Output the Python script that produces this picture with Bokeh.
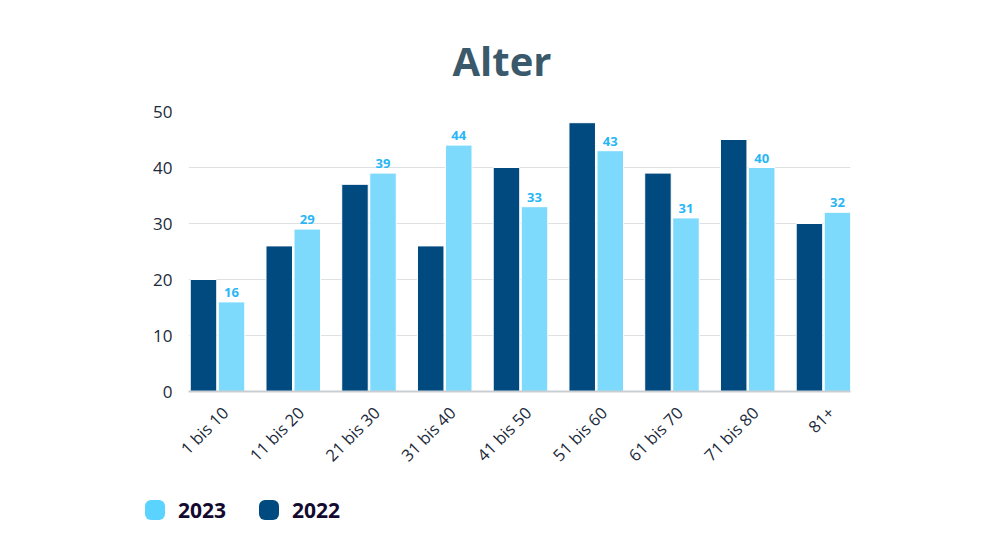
from bokeh.plotting import figure
from bokeh.models import ColumnDataSource, Range1d, FixedTicker, LabelSet, Div
from bokeh.layouts import column
from bokeh.transform import dodge
from bokeh.core.properties import value
from bokeh.embed import file_html
from bokeh.resources import INLINE

categories = ["1 bis 10", "11 bis 20", "21 bis 30", "31 bis 40", "41 bis 50",
              "51 bis 60", "61 bis 70", "71 bis 80", "81+"]
values_2022 = [20, 26, 37, 26, 40, 48, 39, 45, 30]
values_2023 = [16, 29, 39, 44, 33, 43, 31, 40, 32]
series_names = ["2023", "2022"]
y_ticks = [0, 10, 20, 30, 40, 50]
title_text = "Alter"

FONT = "Open Sans"
DARK = "#004a80"
LIGHT = "#7ddafd"
LEGEND_COLORS = ["#5ad3ff", "#004a80"]
TEXT_DARK = "#1c2a3b"

W, H1 = 979, 480

xs = [i + 0.5 for i in range(len(categories))]
src = ColumnDataSource(dict(x=xs, cat=categories, v22=values_2022, v23=values_2023,
                            lab23=[str(v) for v in values_2023]))

p = figure(width=W, height=H1, x_range=Range1d(0.117, 8.857), y_range=Range1d(0, 50),
           output_backend="svg", toolbar_location=None,
           min_border_left=188, min_border_right=W - 850, min_border_top=111,
           min_border_bottom=H1 - 391, outline_line_color=None)

p.title.text = title_text
p.title.align = "left"
p.title.offset = 264
p.title.standoff = 48
p.title.text_font = FONT
p.title.text_font_style = "bold"
p.title.text_font_size = "40px"
p.title.text_color = "#3a5a6c"

r22 = p.vbar(x=dodge("x", -0.185), top="v22", width=0.35, source=src,
             fill_color=DARK, line_color="white", line_width=1)
r23 = p.vbar(x=dodge("x", 0.185), top="v23", width=0.35, source=src,
             fill_color=LIGHT, line_color="white", line_width=1)

labels = LabelSet(x=dodge("x", 0.185), y="v23", text="lab23", source=src,
                  text_align="center", text_baseline="bottom", y_offset=5,
                  text_font=value(FONT), text_font_style="bold",
                  text_font_size="13px", text_color="#29b6f6")
p.add_layout(labels)

p.xgrid.visible = False
p.ygrid.grid_line_color = "#dde1e4"
p.ygrid.grid_line_width = 1
p.ygrid.ticker = FixedTicker(ticks=y_ticks)

p.yaxis.ticker = FixedTicker(ticks=y_ticks)
p.yaxis.axis_line_color = None
p.yaxis.major_tick_line_color = None
p.yaxis.minor_tick_line_color = None
p.yaxis.major_label_standoff = 10
p.yaxis.major_label_text_font = FONT
p.yaxis.major_label_text_font_size = "17px"
p.yaxis.major_label_text_color = TEXT_DARK

label_pos = [x + 0.1 for x in xs]
p.xaxis.ticker = FixedTicker(ticks=label_pos)
p.xaxis.major_label_overrides = {x: c for x, c in zip(label_pos, categories)}
p.xaxis.axis_line_color = "#c9ced3"
p.xaxis.axis_line_width = 2
p.xaxis.major_tick_line_color = None
p.xaxis.minor_tick_line_color = None
p.xaxis.major_label_orientation = 0.785398
p.xaxis.major_label_standoff = 12
p.xaxis.major_label_text_font = FONT
p.xaxis.major_label_text_font_size = "16.5px"
p.xaxis.major_label_text_color = TEXT_DARK

# legend as HTML below the plot
swatch_left = [140, 254]
parts = []
for name, col, left in zip(series_names, LEGEND_COLORS, swatch_left):
    parts.append(
        f'<span style="position:absolute;left:{left}px;top:15px;width:20px;height:20px;'
        f'border-radius:6px;background:{col};"></span>'
        f'<span style="position:absolute;left:{left + 33}px;top:11px;line-height:28px;'
        f"font-family:'{FONT}';font-weight:bold;font-size:21px;color:#140a30;\">{name}</span>"
    )
legend_div = Div(text='<div style="position:relative;width:%dpx;height:60px;">%s</div>'
                 % (W, "".join(parts)), width=W, height=60)

layout = column(p, legend_div, spacing=0)
open("out.html", "w").write(file_html(layout, INLINE))
